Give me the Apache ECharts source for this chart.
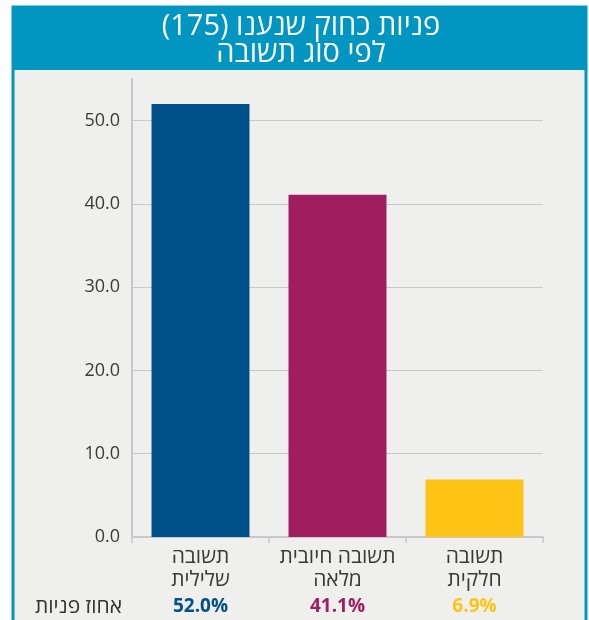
<!DOCTYPE html>
<html><head><meta charset="utf-8">
<script src="https://cdn.jsdelivr.net/npm/echarts@6/dist/echarts.min.js"></script>
<style>html,body{margin:0;padding:0;background:#fff;}#c{width:589px;height:620px;}</style>
</head><body><div id="c"></div>
<script>
const categories = ['תשובה\nשלילית', 'תשובה חיובית\nמלאה', 'תשובה\nחלקית'];
const values = [52.0, 41.1, 6.9];
const barColors = ['#00508a', '#a01e60', '#fdc315'];
const titleLines = ['פניות כחוק שנענו (175)', 'לפי סוג תשובה'];
const rowLabel = 'אחוז פניות';
const FONT = '"Open Sans", "Noto Sans", sans-serif';

const chart = echarts.init(document.getElementById('c'), null, {renderer: 'canvas'});
const rich = {};
barColors.forEach((c, i) => { rich['c' + i] = {color: c, fontWeight: 'bold', fontSize: 19, fontFamily: FONT}; });

chart.setOption({
  animation: false,
  textStyle: {fontFamily: FONT},
  graphic: [
    {type: 'rect', z: -10, shape: {x: 13, y: 7, width: 573, height: 640}, style: {fill: '#efefed', stroke: '#0096c1', lineWidth: 3}},
    {type: 'rect', z: -9, shape: {x: 12, y: 7, width: 575, height: 63}, style: {fill: '#0096c1'}},
    {type: 'text', z: 10, x: 301, y: 27, style: {text: titleLines[0], fill: '#fff', fontSize: 29, fontFamily: FONT, align: 'center', verticalAlign: 'middle'}},
    {type: 'text', z: 10, x: 301, y: 54, style: {text: titleLines[1], fill: '#fff', fontSize: 29, fontFamily: FONT, align: 'center', verticalAlign: 'middle'}},
    {type: 'text', z: 10, x: 122, y: 607, style: {text: rowLabel, fill: '#333', fontSize: 21, fontFamily: FONT, align: 'right', verticalAlign: 'middle'}}
  ],
  grid: {left: 132, right: 46, top: 79, bottom: 83, containLabel: false},
  xAxis: [
    {type: 'category', data: categories, gridIndex: 0,
     axisLine: {lineStyle: {color: '#c8c8cb', width: 2}},
     axisTick: {show: true, length: 6, lineStyle: {color: '#c8c8cb', width: 1.5}},
     axisLabel: {interval: 0, color: '#3a3a3a', fontSize: 21, lineHeight: 23, margin: 9, fontFamily: FONT}},
    {type: 'category', data: categories, gridIndex: 0, position: 'bottom', offset: 52,
     axisLine: {show: false}, axisTick: {show: false},
     axisLabel: {interval: 0, margin: 8, formatter: (v, i) => `{c${i}|${values[i].toFixed(1)}%}`, rich: rich}}
  ],
  yAxis: {type: 'value', min: 0, max: 55, interval: 10,
    axisLine: {show: true, lineStyle: {color: '#c8c8cb', width: 2}},
    axisTick: {show: false},
    splitLine: {show: true, showMaxLine: false, lineStyle: {color: '#c8c8c8', width: 1}},
    axisLabel: {showMaxLabel: false, color: '#3a3a3a', fontSize: 18, margin: 12, formatter: v => v.toFixed(1), fontFamily: FONT}},
  series: [{type: 'bar', xAxisIndex: 0, barWidth: '71.5%',
    data: values.map((v, i) => ({value: v, itemStyle: {color: barColors[i]}}))}]
});
</script></body></html>
